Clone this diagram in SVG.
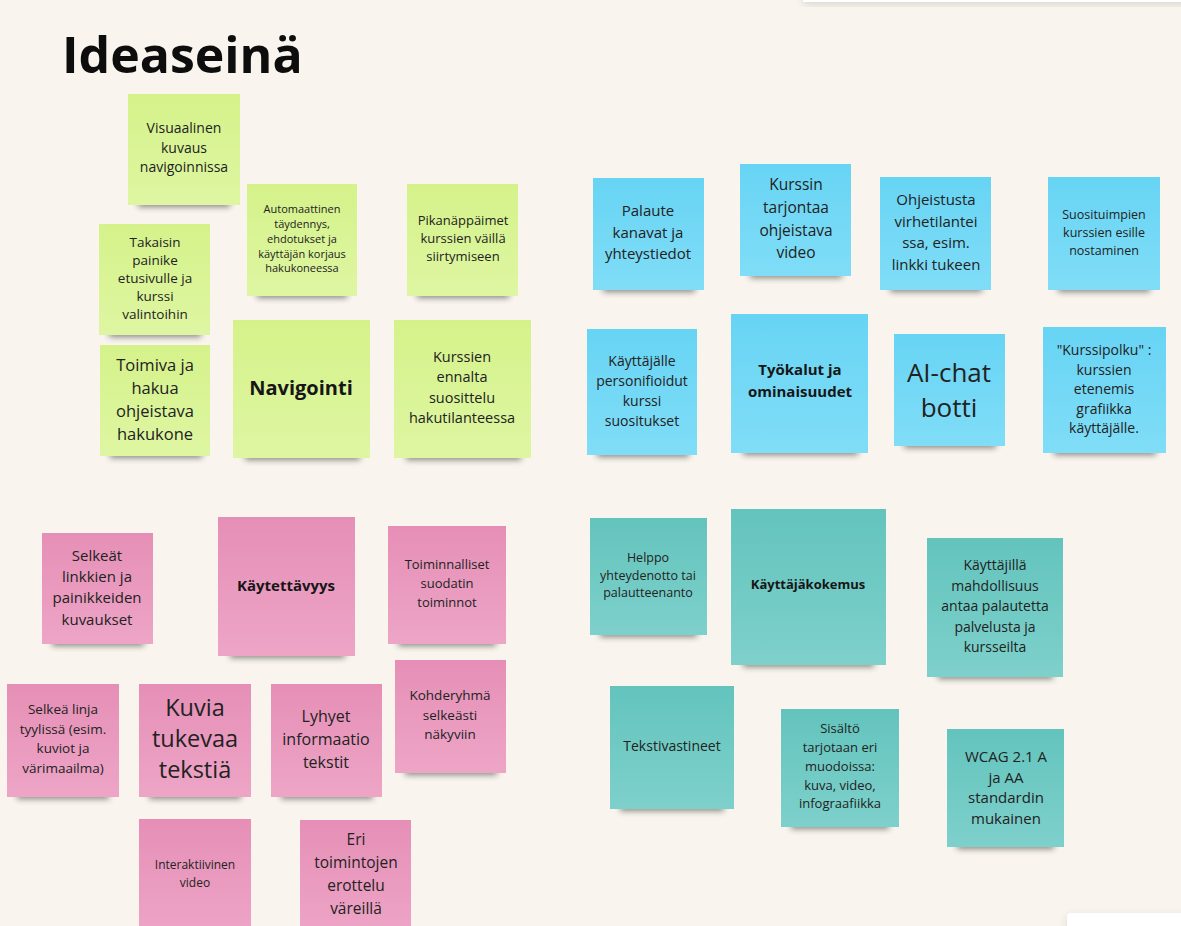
<svg xmlns="http://www.w3.org/2000/svg" width="1181" height="926" viewBox="0 0 1181 926">
<defs>
<linearGradient id="gG" x1="0" y1="0" x2="0" y2="1"><stop offset="0" stop-color="#d5f28a"/><stop offset="1" stop-color="#def6a2"/></linearGradient>
<linearGradient id="gB" x1="0" y1="0" x2="0" y2="1"><stop offset="0" stop-color="#67d4f4"/><stop offset="1" stop-color="#80ddf7"/></linearGradient>
<linearGradient id="gP" x1="0" y1="0" x2="0" y2="1"><stop offset="0" stop-color="#e68fb6"/><stop offset="1" stop-color="#eda5c6"/></linearGradient>
<linearGradient id="gT" x1="0" y1="0" x2="0" y2="1"><stop offset="0" stop-color="#63c4bd"/><stop offset="1" stop-color="#7ed0cb"/></linearGradient>
<filter id="blur" x="-20%" y="-100%" width="140%" height="300%"><feGaussianBlur stdDeviation="3"/></filter>
<filter id="pshadow" x="-20%" y="-20%" width="140%" height="160%"><feDropShadow dx="0" dy="3" stdDeviation="4" flood-color="#000" flood-opacity="0.12"/></filter>
</defs>
<style>
.t{font-family:"Open Sans","Noto Sans","DejaVu Sans",sans-serif;fill:#222;text-anchor:middle}
.b{font-weight:bold;fill:#161616}
.sh{fill:#000;opacity:0.45;filter:url(#blur)}
.g{fill:url(#gG)}
.bl{fill:url(#gB)}
.p{fill:url(#gP)}
.tl{fill:url(#gT)}
</style>
<rect x="0" y="0" width="1181" height="926" fill="#f9f5ee"/>
<rect x="803" y="-10" width="390" height="12" fill="#ffffff" filter="url(#pshadow)"/>
<rect x="1067" y="913" width="130" height="30" rx="4" fill="#ffffff" filter="url(#pshadow)"/>
<text x="62" y="73" style="font-family:'Open Sans','Noto Sans',sans-serif;font-weight:bold;font-size:50px;fill:#0d0d0d">Ideaseinä</text>

<g id="nodes">
<!-- Green -->
<g id="n-visuaalinen">
<rect class="sh" x="138" y="199" width="92" height="8"/>
<rect class="g" x="128" y="94" width="112" height="111"/>
<text class="t" font-size="14"><tspan x="184" y="133">Visuaalinen</tspan><tspan x="184" y="153">kuvaus</tspan><tspan x="184" y="172">navigoinnissa</tspan></text>
</g>
<g id="n-automaattinen">
<rect class="sh" x="257" y="290" width="90" height="8"/>
<rect class="g" x="247" y="184" width="110" height="112"/>
<text class="t" font-size="11"><tspan x="302" y="213">Automaattinen</tspan><tspan x="302" y="228">täydennys,</tspan><tspan x="302" y="243">ehdotukset ja</tspan><tspan x="302" y="258">käyttäjän korjaus</tspan><tspan x="302" y="272">hakukoneessa</tspan></text>
</g>
<g id="n-pikanappaimet">
<rect class="sh" x="417" y="290" width="92" height="8"/>
<rect class="g" x="407" y="184" width="111" height="112"/>
<text class="t" font-size="13"><tspan x="463" y="225">Pikanäppäimet</tspan><tspan x="463" y="243">kurssien väillä</tspan><tspan x="463" y="261">siirtymiseen</tspan></text>
</g>
<g id="n-takaisin">
<rect class="sh" x="109" y="329" width="92" height="8"/>
<rect class="g" x="99" y="224" width="111" height="111"/>
<text class="t" font-size="13.5"><tspan x="155" y="247">Takaisin</tspan><tspan x="155" y="265">painike</tspan><tspan x="155" y="283">etusivulle ja</tspan><tspan x="155" y="301">kurssi</tspan><tspan x="155" y="319">valintoihin</tspan></text>
</g>
<g id="n-toimiva">
<rect class="sh" x="110" y="450" width="92" height="8"/>
<rect class="g" x="100" y="345" width="110" height="111"/>
<text class="t" font-size="16.5"><tspan x="155" y="371">Toimiva ja</tspan><tspan x="155" y="394">hakua</tspan><tspan x="155" y="417">ohjeistava</tspan><tspan x="155" y="440">hakukone</tspan></text>
</g>
<g id="n-navigointi">
<rect class="sh" x="245" y="452" width="115" height="8"/>
<rect class="g" x="233" y="320" width="137" height="138"/>
<text class="t b" font-size="20" x="301" y="395">Navigointi</text>
</g>
<g id="n-kurssien-ennalta">
<rect class="sh" x="406" y="452" width="115" height="8"/>
<rect class="g" x="394" y="320" width="137" height="138"/>
<text class="t" font-size="14.5"><tspan x="462" y="362">Kurssien</tspan><tspan x="462" y="382">ennalta</tspan><tspan x="462" y="403">suosittelu</tspan><tspan x="462" y="423">hakutilanteessa</tspan></text>
</g>

<!-- Blue -->
<g id="n-palaute">
<rect class="sh" x="603" y="284" width="92" height="8"/>
<rect class="bl" x="593" y="178" width="111" height="112"/>
<text class="t" font-size="15"><tspan x="648" y="216">Palaute</tspan><tspan x="648" y="238">kanavat ja</tspan><tspan x="648" y="259">yhteystiedot</tspan></text>
</g>
<g id="n-kurssin-tarjontaa">
<rect class="sh" x="750" y="270" width="92" height="8"/>
<rect class="bl" x="740" y="164" width="111" height="112"/>
<text class="t" font-size="15.5"><tspan x="796" y="190">Kurssin</tspan><tspan x="796" y="213">tarjontaa</tspan><tspan x="796" y="236">ohjeistava</tspan><tspan x="796" y="258">video</tspan></text>
</g>
<g id="n-ohjeistusta">
<rect class="sh" x="890" y="284" width="92" height="8"/>
<rect class="bl" x="880" y="177" width="111" height="113"/>
<text class="t" font-size="15"><tspan x="936" y="205">Ohjeistusta</tspan><tspan x="936" y="227">virhetilantei</tspan><tspan x="936" y="248">ssa, esim.</tspan><tspan x="936" y="270">linkki tukeen</tspan></text>
</g>
<g id="n-suosituimpien">
<rect class="sh" x="1058" y="284" width="92" height="8"/>
<rect class="bl" x="1048" y="177" width="112" height="113"/>
<text class="t" font-size="12.5"><tspan x="1104" y="219">Suosituimpien</tspan><tspan x="1104" y="237">kurssien esille</tspan><tspan x="1104" y="255">nostaminen</tspan></text>
</g>
<g id="n-personifioidut">
<rect class="sh" x="597" y="449" width="92" height="8"/>
<rect class="bl" x="587" y="329" width="110" height="126"/>
<text class="t" font-size="14"><tspan x="642" y="366">Käyttäjälle</tspan><tspan x="642" y="386">personifioidut</tspan><tspan x="642" y="406">kurssi</tspan><tspan x="642" y="426">suositukset</tspan></text>
</g>
<g id="n-tyokalut">
<rect class="sh" x="743" y="447" width="115" height="8"/>
<rect class="bl" x="731" y="314" width="137" height="139"/>
<text class="t b" font-size="15"><tspan x="800" y="375">Työkalut ja</tspan><tspan x="800" y="397">ominaisuudet</tspan></text>
</g>
<g id="n-ai-chat">
<rect class="sh" x="904" y="440" width="92" height="8"/>
<rect class="bl" x="894" y="334" width="111" height="112"/>
<text class="t" font-size="26"><tspan x="949" y="382">AI-chat</tspan><tspan x="949" y="417">botti</tspan></text>
</g>
<g id="n-kurssipolku">
<rect class="sh" x="1054" y="447" width="102" height="8"/>
<rect class="bl" x="1043" y="327" width="123" height="126"/>
<text class="t" font-size="14"><tspan x="1104" y="355">"Kurssipolku" :</tspan><tspan x="1104" y="375">kurssien</tspan><tspan x="1104" y="394">etenemis</tspan><tspan x="1104" y="414">grafiikka</tspan><tspan x="1104" y="433">käyttäjälle.</tspan></text>
</g>

<!-- Pink -->
<g id="n-selkeat-linkkien">
<rect class="sh" x="52" y="638" width="92" height="8"/>
<rect class="p" x="42" y="533" width="111" height="111"/>
<text class="t" font-size="15"><tspan x="97" y="561">Selkeät</tspan><tspan x="97" y="582">linkkien ja</tspan><tspan x="97" y="603">painikkeiden</tspan><tspan x="97" y="625">kuvaukset</tspan></text>
</g>
<g id="n-kaytettavyys">
<rect class="sh" x="230" y="650" width="115" height="8"/>
<rect class="p" x="218" y="517" width="137" height="139"/>
<text class="t b" font-size="15" x="286" y="591">Käytettävyys</text>
</g>
<g id="n-toiminnalliset">
<rect class="sh" x="398" y="638" width="98" height="8"/>
<rect class="p" x="388" y="526" width="118" height="118"/>
<text class="t" font-size="13"><tspan x="447" y="569">Toiminnalliset</tspan><tspan x="447" y="588">suodatin</tspan><tspan x="447" y="607">toiminnot</tspan></text>
</g>
<g id="n-selkea-linja">
<rect class="sh" x="17" y="791" width="92" height="8"/>
<rect class="p" x="7" y="684" width="112" height="113"/>
<text class="t" font-size="13.5"><tspan x="63" y="714">Selkeä linja</tspan><tspan x="63" y="734">tyylissä (esim.</tspan><tspan x="63" y="753">kuviot ja</tspan><tspan x="63" y="773">värimaailma)</tspan></text>
</g>
<g id="n-kuvia-tukevaa">
<rect class="sh" x="149" y="791" width="92" height="8"/>
<rect class="p" x="139" y="684" width="112" height="113"/>
<text class="t" font-size="23.5"><tspan x="195" y="716">Kuvia</tspan><tspan x="195" y="747">tukevaa</tspan><tspan x="195" y="778">tekstiä</tspan></text>
</g>
<g id="n-lyhyet">
<rect class="sh" x="281" y="791" width="92" height="8"/>
<rect class="p" x="271" y="684" width="111" height="113"/>
<text class="t" font-size="16"><tspan x="326" y="722">Lyhyet</tspan><tspan x="326" y="745">informaatio</tspan><tspan x="326" y="768">tekstit</tspan></text>
</g>
<g id="n-kohderyhma">
<rect class="sh" x="405" y="767" width="92" height="8"/>
<rect class="p" x="395" y="660" width="111" height="113"/>
<text class="t" font-size="13.5"><tspan x="450" y="700">Kohderyhmä</tspan><tspan x="450" y="720">selkeästi</tspan><tspan x="450" y="739">näkyviin</tspan></text>
</g>
<g id="n-interaktiivinen">
<rect class="p" x="139" y="819" width="112" height="115"/>
<text class="t" font-size="12"><tspan x="195" y="869">Interaktiivinen</tspan><tspan x="195" y="887">video</tspan></text>
</g>
<g id="n-eri-toimintojen">
<rect class="p" x="300" y="820" width="111" height="115"/>
<text class="t" font-size="15.5"><tspan x="356" y="845">Eri</tspan><tspan x="356" y="868">toimintojen</tspan><tspan x="356" y="891">erottelu</tspan><tspan x="356" y="914">väreillä</tspan></text>
</g>

<!-- Teal -->
<g id="n-helppo">
<rect class="sh" x="600" y="629" width="97" height="8"/>
<rect class="tl" x="590" y="518" width="117" height="117"/>
<text class="t" font-size="12.5"><tspan x="648" y="562">Helppo</tspan><tspan x="648" y="580">yhteydenotto tai</tspan><tspan x="648" y="597">palautteenanto</tspan></text>
</g>
<g id="n-kayttajakokemus">
<rect class="sh" x="743" y="659" width="131" height="8"/>
<rect class="tl" x="731" y="509" width="155" height="156"/>
<text class="t b" font-size="13" x="808" y="589">Käyttäjäkokemus</text>
</g>
<g id="n-kayttajilla">
<rect class="sh" x="938" y="671" width="115" height="8"/>
<rect class="tl" x="927" y="538" width="136" height="139"/>
<text class="t" font-size="14"><tspan x="995" y="570">Käyttäjillä</tspan><tspan x="995" y="591">mahdollisuus</tspan><tspan x="995" y="611">antaa palautetta</tspan><tspan x="995" y="632">palvelusta ja</tspan><tspan x="995" y="652">kursseilta</tspan></text>
</g>
<g id="n-tekstivastineet">
<rect class="sh" x="620" y="803" width="104" height="8"/>
<rect class="tl" x="610" y="686" width="124" height="123"/>
<text class="t" font-size="14" x="672" y="751">Tekstivastineet</text>
</g>
<g id="n-sisalto">
<rect class="sh" x="791" y="821" width="98" height="8"/>
<rect class="tl" x="781" y="709" width="118" height="118"/>
<text class="t" font-size="13"><tspan x="840" y="733">Sisältö</tspan><tspan x="840" y="752">tarjotaan eri</tspan><tspan x="840" y="771">muodoissa:</tspan><tspan x="840" y="790">kuva, video,</tspan><tspan x="840" y="808">infograafiikka</tspan></text>
</g>
<g id="n-wcag">
<rect class="sh" x="957" y="841" width="97" height="8"/>
<rect class="tl" x="947" y="729" width="117" height="118"/>
<text class="t" font-size="15"><tspan x="1006" y="762">WCAG 2.1 A</tspan><tspan x="1006" y="783">ja AA</tspan><tspan x="1006" y="803">standardin</tspan><tspan x="1006" y="824">mukainen</tspan></text>
</g>
</g>
<g id="connectors"/>
</svg>
